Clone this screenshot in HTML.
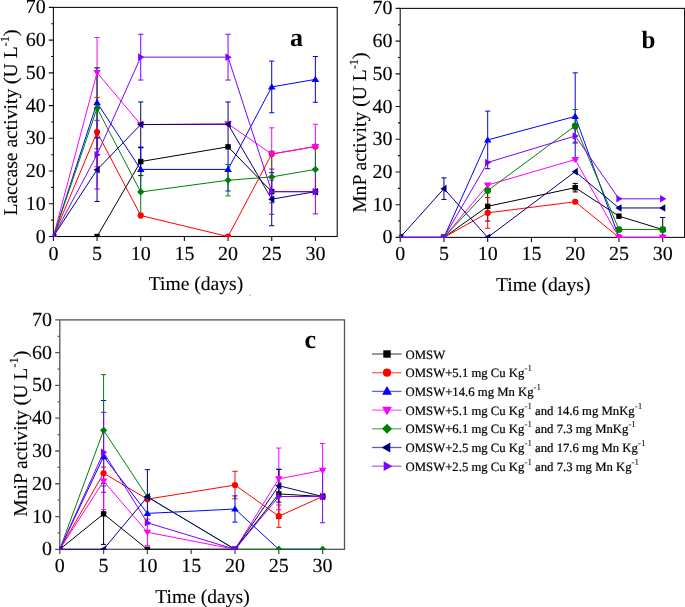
<!DOCTYPE html>
<html><head><meta charset="utf-8"><style>
html,body{margin:0;padding:0;background:#fff;overflow:hidden}
svg{display:block;will-change:transform}
text{font-family:"Liberation Serif",serif;fill:#000;text-rendering:geometricPrecision}
.t{font-size:20px;stroke:#000;stroke-width:0.12px}
.ax{font-size:19.6px;stroke:#000;stroke-width:0.12px}
.sup2{font-size:12.5px}
.lg{font-size:12.72px;stroke:#000;stroke-width:0.22px}
.sup{font-size:9px;stroke-width:0.05px}
.pl{font-size:26px;font-weight:bold}
</style></head><body>
<svg width="685" height="607" viewBox="0 0 685 607">
<clipPath id="ca"><rect x="52.90" y="7.40" width="284.32" height="229.60"/></clipPath>
<rect x="53.40" y="7.40" width="283.82" height="229.10" fill="none" stroke="#111" stroke-width="1.1"/>
<path d="M48.80 236.50H53.40M51.20 220.14H53.40M48.80 203.77H53.40M51.20 187.41H53.40M48.80 171.04H53.40M51.20 154.68H53.40M48.80 138.31H53.40M51.20 121.95H53.40M48.80 105.59H53.40M51.20 89.22H53.40M48.80 72.86H53.40M51.20 56.49H53.40M48.80 40.13H53.40M51.20 23.76H53.40M48.80 7.40H53.40M53.40 236.50V241.10M97.06 236.50V241.10M140.73 236.50V241.10M184.40 236.50V241.10M228.06 236.50V241.10M271.73 236.50V241.10M315.39 236.50V241.10" stroke="#111" stroke-width="1.1" fill="none"/>
<g clip-path="url(#ca)">
<path d="M140.73 147.48V175.62M138.13 147.48h5.2M138.13 175.62h5.2" stroke="#000000" stroke-width="1" fill="none"/>
<path d="M97.06 97.40V166.79M94.47 97.40h5.2M94.47 166.79h5.2" stroke="#ff0000" stroke-width="1" fill="none"/>
<path d="M97.06 67.95V137.33M94.47 67.95h5.2M94.47 137.33h5.2" stroke="#0000ff" stroke-width="1" fill="none"/>
<path d="M140.73 147.81V191.01M138.13 147.81h5.2M138.13 191.01h5.2" stroke="#0000ff" stroke-width="1" fill="none"/>
<path d="M228.06 147.81V191.01M225.46 147.81h5.2M225.46 191.01h5.2" stroke="#0000ff" stroke-width="1" fill="none"/>
<path d="M271.73 61.07V112.79M269.12 61.07h5.2M269.12 112.79h5.2" stroke="#0000ff" stroke-width="1" fill="none"/>
<path d="M315.39 56.49V102.31M312.79 56.49h5.2M312.79 102.31h5.2" stroke="#0000ff" stroke-width="1" fill="none"/>
<path d="M97.06 37.51V107.55M94.47 37.51h5.2M94.47 107.55h5.2" stroke="#ff00ff" stroke-width="1" fill="none"/>
<path d="M271.73 127.84V180.21M269.12 127.84h5.2M269.12 180.21h5.2" stroke="#ff00ff" stroke-width="1" fill="none"/>
<path d="M315.39 124.24V168.75M312.79 124.24h5.2M312.79 168.75h5.2" stroke="#ff00ff" stroke-width="1" fill="none"/>
<path d="M97.06 67.62V148.79M94.47 67.62h5.2M94.47 148.79h5.2" stroke="#008000" stroke-width="1" fill="none"/>
<path d="M140.73 170.72V213.26M138.13 170.72h5.2M138.13 213.26h5.2" stroke="#008000" stroke-width="1" fill="none"/>
<path d="M228.06 164.50V195.92M225.46 164.50h5.2M225.46 195.92h5.2" stroke="#008000" stroke-width="1" fill="none"/>
<path d="M271.73 151.08V202.79M269.12 151.08h5.2M269.12 202.79h5.2" stroke="#008000" stroke-width="1" fill="none"/>
<path d="M315.39 146.50V192.32M312.79 146.50h5.2M312.79 192.32h5.2" stroke="#008000" stroke-width="1" fill="none"/>
<path d="M97.06 137.99V201.48M94.47 137.99h5.2M94.47 201.48h5.2" stroke="#000080" stroke-width="1" fill="none"/>
<path d="M140.73 101.99V147.15M138.13 101.99h5.2M138.13 147.15h5.2" stroke="#000080" stroke-width="1" fill="none"/>
<path d="M228.06 101.99V146.50M225.46 101.99h5.2M225.46 146.50h5.2" stroke="#000080" stroke-width="1" fill="none"/>
<path d="M271.73 172.68V225.70M269.12 172.68h5.2M269.12 225.70h5.2" stroke="#000080" stroke-width="1" fill="none"/>
<path d="M97.06 120.31V189.04M94.47 120.31h5.2M94.47 189.04h5.2" stroke="#8000ff" stroke-width="1" fill="none"/>
<path d="M140.73 34.24V80.06M138.13 34.24h5.2M138.13 80.06h5.2" stroke="#8000ff" stroke-width="1" fill="none"/>
<path d="M228.06 34.24V80.06M225.46 34.24h5.2M225.46 80.06h5.2" stroke="#8000ff" stroke-width="1" fill="none"/>
<path d="M271.73 169.08V214.24M269.12 169.08h5.2M269.12 214.24h5.2" stroke="#8000ff" stroke-width="1" fill="none"/>
<path d="M315.39 169.41V213.92M312.79 169.41h5.2M312.79 213.92h5.2" stroke="#8000ff" stroke-width="1" fill="none"/>
<polyline points="53.40,236.50 97.06,236.50 140.73,161.55 228.06,146.82 271.73,191.66 315.39,191.66" stroke="#000000" stroke-width="1" fill="none"/>
<rect x="50.70" y="233.80" width="5.40" height="5.40" fill="#000000"/>
<rect x="94.36" y="233.80" width="5.40" height="5.40" fill="#000000"/>
<rect x="138.03" y="158.85" width="5.40" height="5.40" fill="#000000"/>
<rect x="225.36" y="144.12" width="5.40" height="5.40" fill="#000000"/>
<rect x="269.03" y="188.96" width="5.40" height="5.40" fill="#000000"/>
<rect x="312.69" y="188.96" width="5.40" height="5.40" fill="#000000"/>
<polyline points="53.40,236.50 97.06,132.10 140.73,215.55 228.06,236.50 271.73,154.02 315.39,146.50" stroke="#ff0000" stroke-width="1" fill="none"/>
<circle cx="53.40" cy="236.50" r="3.10" fill="#ff0000"/>
<circle cx="97.06" cy="132.10" r="3.10" fill="#ff0000"/>
<circle cx="140.73" cy="215.55" r="3.10" fill="#ff0000"/>
<circle cx="228.06" cy="236.50" r="3.10" fill="#ff0000"/>
<circle cx="271.73" cy="154.02" r="3.10" fill="#ff0000"/>
<circle cx="315.39" cy="146.50" r="3.10" fill="#ff0000"/>
<polyline points="53.40,236.50 97.06,102.64 140.73,169.41 228.06,169.41 271.73,86.93 315.39,79.40" stroke="#0000ff" stroke-width="1" fill="none"/>
<polygon points="53.40,232.90 57.20,239.10 49.60,239.10" fill="#0000ff"/>
<polygon points="97.06,99.04 100.86,105.24 93.27,105.24" fill="#0000ff"/>
<polygon points="140.73,165.81 144.53,172.01 136.93,172.01" fill="#0000ff"/>
<polygon points="228.06,165.81 231.86,172.01 224.26,172.01" fill="#0000ff"/>
<polygon points="271.73,83.33 275.53,89.53 267.93,89.53" fill="#0000ff"/>
<polygon points="315.39,75.80 319.19,82.00 311.59,82.00" fill="#0000ff"/>
<polyline points="53.40,236.50 97.06,72.53 140.73,124.57 228.06,123.91 271.73,154.02 315.39,146.50" stroke="#ff00ff" stroke-width="1" fill="none"/>
<polygon points="53.40,240.10 57.20,233.90 49.60,233.90" fill="#ff00ff"/>
<polygon points="97.06,76.13 100.86,69.93 93.27,69.93" fill="#ff00ff"/>
<polygon points="140.73,128.17 144.53,121.97 136.93,121.97" fill="#ff00ff"/>
<polygon points="228.06,127.51 231.86,121.31 224.26,121.31" fill="#ff00ff"/>
<polygon points="271.73,157.62 275.53,151.42 267.93,151.42" fill="#ff00ff"/>
<polygon points="315.39,150.10 319.19,143.90 311.59,143.90" fill="#ff00ff"/>
<polyline points="53.40,236.50 97.06,108.20 140.73,191.99 228.06,180.21 271.73,176.93 315.39,169.41" stroke="#008000" stroke-width="1" fill="none"/>
<polygon points="53.40,232.90 57.00,236.50 53.40,240.10 49.80,236.50" fill="#008000"/>
<polygon points="97.06,104.60 100.66,108.20 97.06,111.80 93.47,108.20" fill="#008000"/>
<polygon points="140.73,188.39 144.33,191.99 140.73,195.59 137.13,191.99" fill="#008000"/>
<polygon points="228.06,176.61 231.66,180.21 228.06,183.81 224.46,180.21" fill="#008000"/>
<polygon points="271.73,173.33 275.33,176.93 271.73,180.53 268.12,176.93" fill="#008000"/>
<polygon points="315.39,165.81 318.99,169.41 315.39,173.01 311.79,169.41" fill="#008000"/>
<polyline points="53.40,236.50 97.06,169.73 140.73,124.57 228.06,124.24 271.73,199.19 315.39,191.66" stroke="#000080" stroke-width="1" fill="none"/>
<polygon points="49.80,236.50 56.00,232.70 56.00,240.30" fill="#000080"/>
<polygon points="93.47,169.73 99.66,165.93 99.66,173.53" fill="#000080"/>
<polygon points="137.13,124.57 143.33,120.77 143.33,128.37" fill="#000080"/>
<polygon points="224.46,124.24 230.66,120.44 230.66,128.04" fill="#000080"/>
<polygon points="268.12,199.19 274.33,195.39 274.33,202.99" fill="#000080"/>
<polygon points="311.79,191.66 317.99,187.86 317.99,195.46" fill="#000080"/>
<polyline points="53.40,236.50 97.06,154.68 140.73,57.15 228.06,57.15 271.73,191.66 315.39,191.66" stroke="#8000ff" stroke-width="1" fill="none"/>
<polygon points="57.00,236.50 50.80,232.70 50.80,240.30" fill="#8000ff"/>
<polygon points="100.66,154.68 94.47,150.88 94.47,158.48" fill="#8000ff"/>
<polygon points="144.33,57.15 138.13,53.35 138.13,60.95" fill="#8000ff"/>
<polygon points="231.66,57.15 225.46,53.35 225.46,60.95" fill="#8000ff"/>
<polygon points="275.33,191.66 269.12,187.86 269.12,195.46" fill="#8000ff"/>
<polygon points="318.99,191.66 312.79,187.86 312.79,195.46" fill="#8000ff"/>
</g>
<text x="45.70" y="242.50" text-anchor="end" class="t">0</text>
<text x="45.70" y="209.77" text-anchor="end" class="t">10</text>
<text x="45.70" y="177.04" text-anchor="end" class="t">20</text>
<text x="45.70" y="144.31" text-anchor="end" class="t">30</text>
<text x="45.70" y="111.59" text-anchor="end" class="t">40</text>
<text x="45.70" y="78.86" text-anchor="end" class="t">50</text>
<text x="45.70" y="46.13" text-anchor="end" class="t">60</text>
<text x="45.70" y="13.40" text-anchor="end" class="t">70</text>
<text x="53.40" y="259.50" text-anchor="middle" class="t">0</text>
<text x="97.06" y="259.50" text-anchor="middle" class="t">5</text>
<text x="140.73" y="259.50" text-anchor="middle" class="t">10</text>
<text x="184.40" y="259.50" text-anchor="middle" class="t">15</text>
<text x="228.06" y="259.50" text-anchor="middle" class="t">20</text>
<text x="271.73" y="259.50" text-anchor="middle" class="t">25</text>
<text x="315.39" y="259.50" text-anchor="middle" class="t">30</text>
<clipPath id="cb"><rect x="399.70" y="8.40" width="284.88" height="229.50"/></clipPath>
<rect x="400.20" y="8.40" width="284.38" height="229.00" fill="none" stroke="#111" stroke-width="1.1"/>
<path d="M395.60 237.40H400.20M398.00 221.04H400.20M395.60 204.69H400.20M398.00 188.33H400.20M395.60 171.97H400.20M398.00 155.61H400.20M395.60 139.26H400.20M398.00 122.90H400.20M395.60 106.54H400.20M398.00 90.19H400.20M395.60 73.83H400.20M398.00 57.47H400.20M395.60 41.11H400.20M398.00 24.76H400.20M395.60 8.40H400.20M400.20 237.40V242.00M443.95 237.40V242.00M487.70 237.40V242.00M531.45 237.40V242.00M575.20 237.40V242.00M618.95 237.40V242.00M662.70 237.40V242.00" stroke="#111" stroke-width="1.1" fill="none"/>
<g clip-path="url(#cb)">
<path d="M487.70 191.60V221.04M485.10 191.60h5.2M485.10 221.04h5.2" stroke="#000000" stroke-width="1" fill="none"/>
<path d="M575.20 183.42V191.93M572.60 183.42h5.2M572.60 191.93h5.2" stroke="#000000" stroke-width="1" fill="none"/>
<path d="M662.70 217.44V241.65M660.10 217.44h5.2M660.10 241.65h5.2" stroke="#000000" stroke-width="1" fill="none"/>
<path d="M487.70 197.49V228.24M485.10 197.49h5.2M485.10 228.24h5.2" stroke="#ff0000" stroke-width="1" fill="none"/>
<path d="M487.70 111.12V168.70M485.10 111.12h5.2M485.10 168.70h5.2" stroke="#0000ff" stroke-width="1" fill="none"/>
<path d="M575.20 72.85V159.87M572.60 72.85h5.2M572.60 159.87h5.2" stroke="#0000ff" stroke-width="1" fill="none"/>
<path d="M575.20 109.49V142.20M572.60 109.49h5.2M572.60 142.20h5.2" stroke="#008000" stroke-width="1" fill="none"/>
<path d="M443.95 177.86V199.45M441.35 177.86h5.2M441.35 199.45h5.2" stroke="#000080" stroke-width="1" fill="none"/>
<path d="M575.20 128.79V143.18M572.60 128.79h5.2M572.60 143.18h5.2" stroke="#8000ff" stroke-width="1" fill="none"/>
<polyline points="400.20,237.40 443.95,237.40 487.70,206.32 575.20,187.67 618.95,216.14 662.70,229.55" stroke="#000000" stroke-width="1" fill="none"/>
<rect x="397.50" y="234.70" width="5.40" height="5.40" fill="#000000"/>
<rect x="441.25" y="234.70" width="5.40" height="5.40" fill="#000000"/>
<rect x="485.00" y="203.62" width="5.40" height="5.40" fill="#000000"/>
<rect x="572.50" y="184.97" width="5.40" height="5.40" fill="#000000"/>
<rect x="616.25" y="213.44" width="5.40" height="5.40" fill="#000000"/>
<rect x="660.00" y="226.85" width="5.40" height="5.40" fill="#000000"/>
<polyline points="400.20,237.40 443.95,237.40 487.70,212.86 575.20,201.74 618.95,237.40 662.70,237.40" stroke="#ff0000" stroke-width="1" fill="none"/>
<circle cx="400.20" cy="237.40" r="3.10" fill="#ff0000"/>
<circle cx="443.95" cy="237.40" r="3.10" fill="#ff0000"/>
<circle cx="487.70" cy="212.86" r="3.10" fill="#ff0000"/>
<circle cx="575.20" cy="201.74" r="3.10" fill="#ff0000"/>
<circle cx="618.95" cy="237.40" r="3.10" fill="#ff0000"/>
<circle cx="662.70" cy="237.40" r="3.10" fill="#ff0000"/>
<polyline points="400.20,237.40 443.95,237.40 487.70,139.91 575.20,116.36 618.95,237.40 662.70,237.40" stroke="#0000ff" stroke-width="1" fill="none"/>
<polygon points="400.20,233.80 404.00,240.00 396.40,240.00" fill="#0000ff"/>
<polygon points="443.95,233.80 447.75,240.00 440.15,240.00" fill="#0000ff"/>
<polygon points="487.70,136.31 491.50,142.51 483.90,142.51" fill="#0000ff"/>
<polygon points="575.20,112.76 579.00,118.96 571.40,118.96" fill="#0000ff"/>
<polygon points="618.95,233.80 622.75,240.00 615.15,240.00" fill="#0000ff"/>
<polygon points="662.70,233.80 666.50,240.00 658.90,240.00" fill="#0000ff"/>
<polyline points="400.20,237.40 443.95,237.40 487.70,185.06 575.20,159.54 618.95,237.40 662.70,237.40" stroke="#ff00ff" stroke-width="1" fill="none"/>
<polygon points="400.20,241.00 404.00,234.80 396.40,234.80" fill="#ff00ff"/>
<polygon points="443.95,241.00 447.75,234.80 440.15,234.80" fill="#ff00ff"/>
<polygon points="487.70,188.66 491.50,182.46 483.90,182.46" fill="#ff00ff"/>
<polygon points="575.20,163.14 579.00,156.94 571.40,156.94" fill="#ff00ff"/>
<polygon points="618.95,241.00 622.75,234.80 615.15,234.80" fill="#ff00ff"/>
<polygon points="662.70,241.00 666.50,234.80 658.90,234.80" fill="#ff00ff"/>
<polyline points="400.20,237.40 443.95,237.40 487.70,190.62 575.20,125.84 618.95,229.55 662.70,229.55" stroke="#008000" stroke-width="1" fill="none"/>
<circle cx="400.20" cy="237.40" r="3.40" fill="#008000"/>
<circle cx="443.95" cy="237.40" r="3.40" fill="#008000"/>
<circle cx="487.70" cy="190.62" r="3.40" fill="#008000"/>
<circle cx="575.20" cy="125.84" r="3.40" fill="#008000"/>
<circle cx="618.95" cy="229.55" r="3.40" fill="#008000"/>
<circle cx="662.70" cy="229.55" r="3.40" fill="#008000"/>
<polyline points="400.20,237.40 443.95,188.66 487.70,237.40 575.20,171.64 618.95,207.96 662.70,207.96" stroke="#000080" stroke-width="1" fill="none"/>
<polygon points="396.60,237.40 402.80,233.60 402.80,241.20" fill="#000080"/>
<polygon points="440.35,188.66 446.55,184.86 446.55,192.46" fill="#000080"/>
<polygon points="484.10,237.40 490.30,233.60 490.30,241.20" fill="#000080"/>
<polygon points="571.60,171.64 577.80,167.84 577.80,175.44" fill="#000080"/>
<polygon points="615.35,207.96 621.55,204.16 621.55,211.76" fill="#000080"/>
<polygon points="659.10,207.96 665.30,204.16 665.30,211.76" fill="#000080"/>
<polyline points="400.20,237.40 443.95,237.40 487.70,162.48 575.20,135.99 618.95,198.80 662.70,198.80" stroke="#8000ff" stroke-width="1" fill="none"/>
<polygon points="403.80,237.40 397.60,233.60 397.60,241.20" fill="#8000ff"/>
<polygon points="447.55,237.40 441.35,233.60 441.35,241.20" fill="#8000ff"/>
<polygon points="491.30,162.48 485.10,158.68 485.10,166.28" fill="#8000ff"/>
<polygon points="578.80,135.99 572.60,132.19 572.60,139.79" fill="#8000ff"/>
<polygon points="622.55,198.80 616.35,195.00 616.35,202.60" fill="#8000ff"/>
<polygon points="666.30,198.80 660.10,195.00 660.10,202.60" fill="#8000ff"/>
</g>
<text x="392.50" y="243.40" text-anchor="end" class="t">0</text>
<text x="392.50" y="210.69" text-anchor="end" class="t">10</text>
<text x="392.50" y="177.97" text-anchor="end" class="t">20</text>
<text x="392.50" y="145.26" text-anchor="end" class="t">30</text>
<text x="392.50" y="112.54" text-anchor="end" class="t">40</text>
<text x="392.50" y="79.83" text-anchor="end" class="t">50</text>
<text x="392.50" y="47.11" text-anchor="end" class="t">60</text>
<text x="392.50" y="14.40" text-anchor="end" class="t">70</text>
<text x="400.20" y="260.40" text-anchor="middle" class="t">0</text>
<text x="443.95" y="260.40" text-anchor="middle" class="t">5</text>
<text x="487.70" y="260.40" text-anchor="middle" class="t">10</text>
<text x="531.45" y="260.40" text-anchor="middle" class="t">15</text>
<text x="575.20" y="260.40" text-anchor="middle" class="t">20</text>
<text x="618.95" y="260.40" text-anchor="middle" class="t">25</text>
<text x="662.70" y="260.40" text-anchor="middle" class="t">30</text>
<clipPath id="cc"><rect x="59.30" y="319.90" width="285.20" height="229.90"/></clipPath>
<rect x="59.80" y="319.90" width="284.70" height="229.40" fill="none" stroke="#555" stroke-width="1.3"/>
<path d="M55.20 549.30H59.80M57.60 532.91H59.80M55.20 516.53H59.80M57.60 500.14H59.80M55.20 483.76H59.80M57.60 467.37H59.80M55.20 450.99H59.80M57.60 434.60H59.80M55.20 418.21H59.80M57.60 401.83H59.80M55.20 385.44H59.80M57.60 369.06H59.80M55.20 352.67H59.80M57.60 336.29H59.80M55.20 319.90H59.80M59.80 549.30V553.90M103.60 549.30V553.90M147.40 549.30V553.90M191.20 549.30V553.90M235.00 549.30V553.90M278.80 549.30V553.90M322.60 549.30V553.90" stroke="#555" stroke-width="1.3" fill="none"/>
<g clip-path="url(#cc)">
<path d="M103.60 483.43V544.38M101.00 483.43h5.2M101.00 544.38h5.2" stroke="#000000" stroke-width="1" fill="none"/>
<path d="M278.80 469.34V518.49M276.20 469.34h5.2M276.20 518.49h5.2" stroke="#000000" stroke-width="1" fill="none"/>
<path d="M103.60 467.04V479.50M101.00 467.04h5.2M101.00 479.50h5.2" stroke="#ff0000" stroke-width="1" fill="none"/>
<path d="M235.00 471.30V498.83M232.40 471.30h5.2M232.40 498.83h5.2" stroke="#ff0000" stroke-width="1" fill="none"/>
<path d="M278.80 505.06V527.34M276.20 505.06h5.2M276.20 527.34h5.2" stroke="#ff0000" stroke-width="1" fill="none"/>
<path d="M103.60 400.52V512.60M101.00 400.52h5.2M101.00 512.60h5.2" stroke="#0000ff" stroke-width="1" fill="none"/>
<path d="M235.00 495.88V522.10M232.40 495.88h5.2M232.40 522.10h5.2" stroke="#0000ff" stroke-width="1" fill="none"/>
<path d="M103.60 452.62V509.65M101.00 452.62h5.2M101.00 509.65h5.2" stroke="#ff00ff" stroke-width="1" fill="none"/>
<path d="M147.40 519.15V545.37M144.80 519.15h5.2M144.80 545.37h5.2" stroke="#ff00ff" stroke-width="1" fill="none"/>
<path d="M278.80 448.04V509.65M276.20 448.04h5.2M276.20 509.65h5.2" stroke="#ff00ff" stroke-width="1" fill="none"/>
<path d="M322.60 443.45V497.19M320.00 443.45h5.2M320.00 497.19h5.2" stroke="#ff00ff" stroke-width="1" fill="none"/>
<path d="M103.60 374.63V486.05M101.00 374.63h5.2M101.00 486.05h5.2" stroke="#008000" stroke-width="1" fill="none"/>
<path d="M147.40 469.67V524.07M144.80 469.67h5.2M144.80 524.07h5.2" stroke="#000080" stroke-width="1" fill="none"/>
<path d="M278.80 469.34V502.11M276.20 469.34h5.2M276.20 502.11h5.2" stroke="#000080" stroke-width="1" fill="none"/>
<path d="M103.60 412.32V492.28M101.00 412.32h5.2M101.00 492.28h5.2" stroke="#8000ff" stroke-width="1" fill="none"/>
<path d="M322.60 470.32V522.76M320.00 470.32h5.2M320.00 522.76h5.2" stroke="#8000ff" stroke-width="1" fill="none"/>
<polyline points="59.80,549.30 103.60,513.91 147.40,549.30 235.00,549.30 278.80,493.92 322.60,496.54" stroke="#000000" stroke-width="1" fill="none"/>
<rect x="57.10" y="546.60" width="5.40" height="5.40" fill="#000000"/>
<rect x="100.90" y="511.21" width="5.40" height="5.40" fill="#000000"/>
<rect x="144.70" y="546.60" width="5.40" height="5.40" fill="#000000"/>
<rect x="232.30" y="546.60" width="5.40" height="5.40" fill="#000000"/>
<rect x="276.10" y="491.22" width="5.40" height="5.40" fill="#000000"/>
<rect x="319.90" y="493.84" width="5.40" height="5.40" fill="#000000"/>
<polyline points="59.80,549.30 103.60,473.27 147.40,499.16 235.00,485.07 278.80,516.20 322.60,496.54" stroke="#ff0000" stroke-width="1" fill="none"/>
<circle cx="59.80" cy="549.30" r="3.10" fill="#ff0000"/>
<circle cx="103.60" cy="473.27" r="3.10" fill="#ff0000"/>
<circle cx="147.40" cy="499.16" r="3.10" fill="#ff0000"/>
<circle cx="235.00" cy="485.07" r="3.10" fill="#ff0000"/>
<circle cx="278.80" cy="516.20" r="3.10" fill="#ff0000"/>
<circle cx="322.60" cy="496.54" r="3.10" fill="#ff0000"/>
<polyline points="59.80,549.30 103.60,456.56 147.40,513.42 235.00,508.99 278.80,549.30 322.60,549.30" stroke="#0000ff" stroke-width="1" fill="none"/>
<polygon points="59.80,545.70 63.60,551.90 56.00,551.90" fill="#0000ff"/>
<polygon points="103.60,452.96 107.40,459.16 99.80,459.16" fill="#0000ff"/>
<polygon points="147.40,509.82 151.20,516.02 143.60,516.02" fill="#0000ff"/>
<polygon points="235.00,505.39 238.80,511.59 231.20,511.59" fill="#0000ff"/>
<polygon points="278.80,545.70 282.60,551.90 275.00,551.90" fill="#0000ff"/>
<polygon points="322.60,545.70 326.40,551.90 318.80,551.90" fill="#0000ff"/>
<polyline points="59.80,549.30 103.60,481.14 147.40,532.26 235.00,549.30 278.80,478.84 322.60,470.32" stroke="#ff00ff" stroke-width="1" fill="none"/>
<polygon points="59.80,552.90 63.60,546.70 56.00,546.70" fill="#ff00ff"/>
<polygon points="103.60,484.74 107.40,478.54 99.80,478.54" fill="#ff00ff"/>
<polygon points="147.40,535.86 151.20,529.66 143.60,529.66" fill="#ff00ff"/>
<polygon points="235.00,552.90 238.80,546.70 231.20,546.70" fill="#ff00ff"/>
<polygon points="278.80,482.44 282.60,476.24 275.00,476.24" fill="#ff00ff"/>
<polygon points="322.60,473.92 326.40,467.72 318.80,467.72" fill="#ff00ff"/>
<polyline points="59.80,549.30 103.60,430.34 147.40,496.87 235.00,549.30 278.80,549.30 322.60,549.30" stroke="#008000" stroke-width="1" fill="none"/>
<polygon points="59.80,545.70 63.40,549.30 59.80,552.90 56.20,549.30" fill="#008000"/>
<polygon points="103.60,426.74 107.20,430.34 103.60,433.94 100.00,430.34" fill="#008000"/>
<polygon points="147.40,493.27 151.00,496.87 147.40,500.47 143.80,496.87" fill="#008000"/>
<polygon points="235.00,545.70 238.60,549.30 235.00,552.90 231.40,549.30" fill="#008000"/>
<polygon points="278.80,545.70 282.40,549.30 278.80,552.90 275.20,549.30" fill="#008000"/>
<polygon points="322.60,545.70 326.20,549.30 322.60,552.90 319.00,549.30" fill="#008000"/>
<polyline points="59.80,549.30 103.60,549.30 147.40,496.87 235.00,549.30 278.80,485.72 322.60,496.54" stroke="#000080" stroke-width="1" fill="none"/>
<polygon points="56.20,549.30 62.40,545.50 62.40,553.10" fill="#000080"/>
<polygon points="100.00,549.30 106.20,545.50 106.20,553.10" fill="#000080"/>
<polygon points="143.80,496.87 150.00,493.07 150.00,500.67" fill="#000080"/>
<polygon points="231.40,549.30 237.60,545.50 237.60,553.10" fill="#000080"/>
<polygon points="275.20,485.72 281.40,481.92 281.40,489.52" fill="#000080"/>
<polygon points="319.00,496.54 325.20,492.74 325.20,500.34" fill="#000080"/>
<polyline points="59.80,549.30 103.60,452.30 147.40,522.76 235.00,549.30 278.80,496.54 322.60,496.54" stroke="#8000ff" stroke-width="1" fill="none"/>
<polygon points="63.40,549.30 57.20,545.50 57.20,553.10" fill="#8000ff"/>
<polygon points="107.20,452.30 101.00,448.50 101.00,456.10" fill="#8000ff"/>
<polygon points="151.00,522.76 144.80,518.96 144.80,526.56" fill="#8000ff"/>
<polygon points="238.60,549.30 232.40,545.50 232.40,553.10" fill="#8000ff"/>
<polygon points="282.40,496.54 276.20,492.74 276.20,500.34" fill="#8000ff"/>
<polygon points="326.20,496.54 320.00,492.74 320.00,500.34" fill="#8000ff"/>
</g>
<text x="52.10" y="555.30" text-anchor="end" class="t">0</text>
<text x="52.10" y="522.53" text-anchor="end" class="t">10</text>
<text x="52.10" y="489.76" text-anchor="end" class="t">20</text>
<text x="52.10" y="456.99" text-anchor="end" class="t">30</text>
<text x="52.10" y="424.21" text-anchor="end" class="t">40</text>
<text x="52.10" y="391.44" text-anchor="end" class="t">50</text>
<text x="52.10" y="358.67" text-anchor="end" class="t">60</text>
<text x="52.10" y="325.90" text-anchor="end" class="t">70</text>
<text x="59.80" y="572.30" text-anchor="middle" class="t">0</text>
<text x="103.60" y="572.30" text-anchor="middle" class="t">5</text>
<text x="147.40" y="572.30" text-anchor="middle" class="t">10</text>
<text x="191.20" y="572.30" text-anchor="middle" class="t">15</text>
<text x="235.00" y="572.30" text-anchor="middle" class="t">20</text>
<text x="278.80" y="572.30" text-anchor="middle" class="t">25</text>
<text x="322.60" y="572.30" text-anchor="middle" class="t">30</text>
<text x="196" y="290" text-anchor="middle" class="ax">Time (days)</text>
<text x="543.2" y="291" text-anchor="middle" class="ax">Time (days)</text>
<text x="202.5" y="602.8" text-anchor="middle" class="ax">Time (days)</text>
<text transform="translate(17.0,122.5) rotate(-90)" text-anchor="middle" class="ax">Laccase activity (U L<tspan class="sup2" dy="-8.5">-1</tspan><tspan dy="8.5">)</tspan></text>
<text transform="translate(366.2,132.6) rotate(-90)" text-anchor="middle" class="ax">MnP activity (U L<tspan class="sup2" dy="-8.5">-1</tspan><tspan dy="8.5">)</tspan></text>
<text transform="translate(26.9,433.7) rotate(-90)" text-anchor="middle" class="ax">MniP activity (U L<tspan class="sup2" dy="-8.5">-1</tspan><tspan dy="8.5">)</tspan></text>
<text x="290.1" y="46.4" class="pl">a</text>
<text x="641.4" y="48.4" class="pl" style="font-size:25px">b</text>
<text x="304.5" y="347.8" class="pl">c</text>
<circle cx="250" cy="295" r="0.6" fill="#33f"/>
<path d="M372 354H401.6" stroke="#000000" stroke-width="1.3" stroke-opacity="0.62" fill="none"/>
<rect x="383.30" y="350.30" width="7.40" height="7.40" fill="#000000"/>
<text x="405.6" y="358.6" class="lg">OMSW</text>
<path d="M372 372.7H401.6" stroke="#ff0000" stroke-width="1.3" stroke-opacity="0.62" fill="none"/>
<circle cx="387.00" cy="372.70" r="4.10" fill="#ff0000"/>
<text x="405.6" y="377.3" class="lg">OMSW+5.1 mg Cu Kg<tspan class="sup" dy="-6.2">-1</tspan></text>
<path d="M372 391.4H401.6" stroke="#0000ff" stroke-width="1.3" stroke-opacity="0.62" fill="none"/>
<polygon points="387.00,386.00 391.90,394.70 382.10,394.70" fill="#0000ff"/>
<text x="405.6" y="396.0" class="lg">OMSW+14.6 mg Mn Kg<tspan class="sup" dy="-6.2">-1</tspan></text>
<path d="M372 410.1H401.6" stroke="#ff00ff" stroke-width="1.3" stroke-opacity="0.62" fill="none"/>
<polygon points="387.00,415.50 391.90,406.80 382.10,406.80" fill="#ff00ff"/>
<text x="405.6" y="414.70000000000005" class="lg">OMSW+5.1 mg Cu Kg<tspan class="sup" dy="-6.2">-1</tspan><tspan dy="6.2"> and 14.6 mg MnKg</tspan><tspan class="sup" dy="-6.2">-1</tspan></text>
<path d="M372 428.8H401.6" stroke="#008000" stroke-width="1.3" stroke-opacity="0.62" fill="none"/>
<polygon points="387.00,423.80 392.00,428.80 387.00,433.80 382.00,428.80" fill="#008000"/>
<text x="405.6" y="433.40000000000003" class="lg">OMSW+6.1 mg Cu Kg<tspan class="sup" dy="-6.2">-1</tspan><tspan dy="6.2"> and 7.3 mg MnKg</tspan><tspan class="sup" dy="-6.2">-1</tspan></text>
<path d="M372 447.5H401.6" stroke="#000080" stroke-width="1.3" stroke-opacity="0.62" fill="none"/>
<polygon points="381.60,447.50 390.30,442.60 390.30,452.40" fill="#000080"/>
<text x="405.6" y="452.1" class="lg">OMSW+2.5 mg Cu Kg<tspan class="sup" dy="-6.2">-1</tspan><tspan dy="6.2"> and 17.6 mg Mn Kg</tspan><tspan class="sup" dy="-6.2">-1</tspan></text>
<path d="M372 466.2H401.6" stroke="#8000ff" stroke-width="1.3" stroke-opacity="0.62" fill="none"/>
<polygon points="392.40,466.20 383.70,461.30 383.70,471.10" fill="#8000ff"/>
<text x="405.6" y="470.8" class="lg">OMSW+2.5 mg Cu Kg<tspan class="sup" dy="-6.2">-1</tspan><tspan dy="6.2"> and 7.3 mg Mn Kg</tspan><tspan class="sup" dy="-6.2">-1</tspan></text>
</svg>
</body></html>
